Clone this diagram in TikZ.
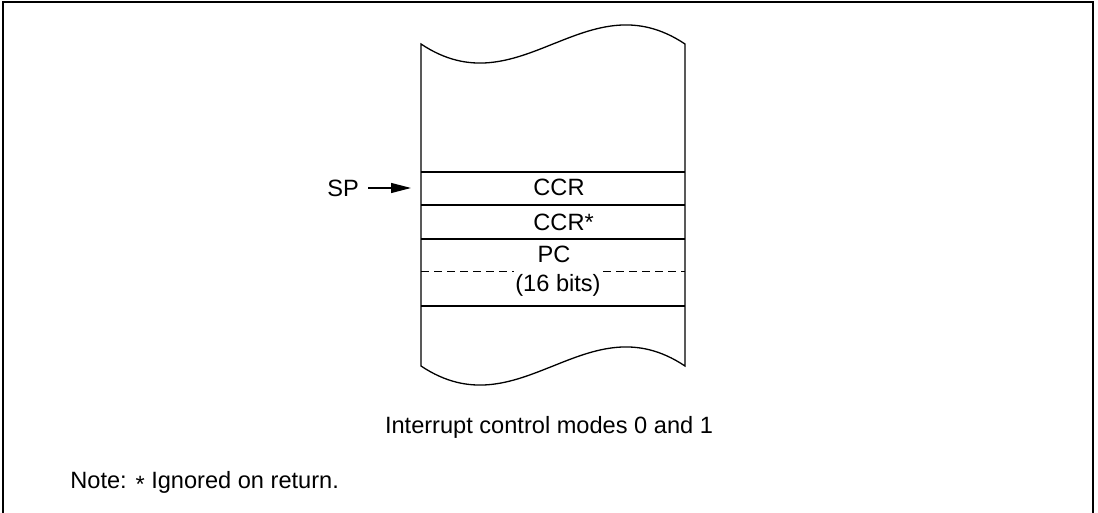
\documentclass[tikz,border=0pt]{standalone}
\usepackage{fontspec}
\setmainfont{Liberation Sans}
\usetikzlibrary{arrows.meta, positioning}

\begin{document}
\begin{tikzpicture}[
  x=0.5pt, y=-0.5pt,
  font=\fontsize{11.8}{14}\selectfont,
  frame/.style={line width=1pt},
  wall/.style={line width=0.65pt},
  sep/.style={line width=0.6pt},
  half/.style={line width=0.5pt, dash pattern=on 4pt off 2.5pt},
  ptr/.style={-{Triangle[length=10pt, width=5pt]}, line width=0.6pt},
  lbl/.style={anchor=base, inner sep=0pt},
  cover/.style={lbl, fill=white, inner xsep=0.8pt, inner ysep=2pt},
]
\useasboundingbox (0,0) rectangle (1098,513);

% outer frame, open at the bottom
\draw[frame] (3,513) -- (3,2) -- (1093,2) -- (1093,513);

% stack area with torn edges
\draw[wall] (421,44) .. controls (520,110) and (586,-22) .. (685,44)
  -- (685,366) .. controls (586,300) and (520,432) .. (421,366) -- cycle;
\foreach \y in {172,205,239,306}
  \draw[sep] (421,\y) -- (685,\y);
\draw[half] (421,272) -- (685,272);

% stack contents
\coordinate (row2) at (0,231);
\node[lbl] (ccr) at (559,196) {CCR};
\node[lbl, anchor=base west] (ccrx) at (ccr.base west |- row2) {CCR*};
\node[lbl] (pc) at (554,263) {PC};
\node[cover] (pcbits) at (558,292) {(16 bits)};

% stack pointer
\node[inner sep=4.5pt] (sp) at (343,188) {SP};
\coordinate (sptip) at (411,188);
\draw[ptr] (sp.east) -- (sptip);

\node[lbl] (caption) at (549,433) {Interrupt control modes 0 and 1};
\node[lbl, anchor=base west] (note) at (70,488)
  {Note: \raisebox{-0.17em}{*} Ignored on return.};
\end{tikzpicture}
\end{document}
